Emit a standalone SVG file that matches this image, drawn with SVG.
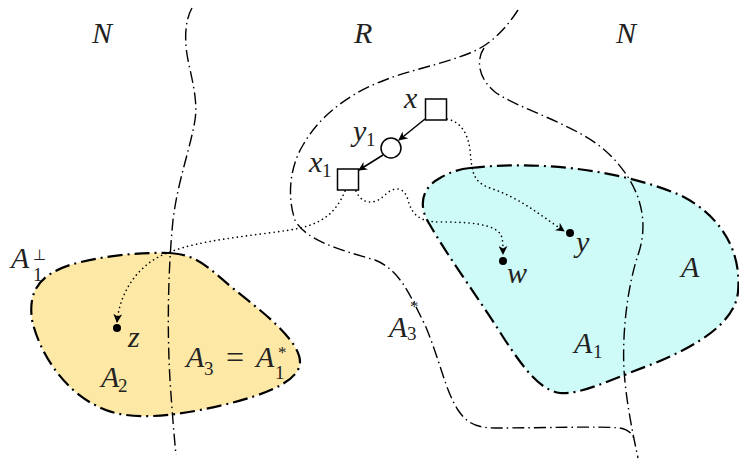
<svg xmlns="http://www.w3.org/2000/svg" width="739" height="460" viewBox="0 0 739 460">
<style>
text{font-family:"Liberation Serif",serif;font-style:italic;font-size:30px;fill:#222}
.s{font-style:normal;font-size:19px}
.b{fill:none;stroke:#000;stroke-width:1.4;stroke-dasharray:12 4 1.5 4}
.reg{stroke:#000;stroke-width:2.2;stroke-dasharray:15 5 2 5}
.dot{fill:none;stroke:#000;stroke-width:1.6;stroke-dasharray:0.1 4.5;stroke-linecap:round}
.n{fill:#fff;stroke:#000;stroke-width:1.5}
</style>
<defs>
<marker id="ar" viewBox="0 0 10 10" refX="9" refY="5" markerWidth="9" markerHeight="9" markerUnits="userSpaceOnUse" orient="auto">
<path d="M0,0 L10,5 L0,10 L3,5 Z" fill="#000"/>
</marker>
</defs>
<g id="regionA2">
<path class="reg" fill="#fde8a6" d="M170,253 C200,255 210,270 235,290 C260,310 300,340 300,362 C300,385 250,400 200,410 C160,418 120,420 95,405 C65,390 40,355 32,320 C28,290 40,275 70,265 C100,256 140,252 170,253 Z"/>
</g>
<g id="regionA">
<path class="reg" fill="#cefaf7" d="M470,168 C540,160 620,170 680,195 C720,215 742,250 738,292 C735,322 700,345 650,365 C610,380 580,395 560,393 C540,390 525,370 505,340 C480,300 450,260 430,225 C420,210 418,190 440,178 C450,172 460,169 470,168 Z"/>
</g>
<g id="boundaries">
<path class="b" d="M192,8 C185,20 184,40 188,60 C192,80 198,100 195,120 C190,150 178,180 173,220 C168,270 167,330 170,380 C172,410 174,435 176,455"/>
<path class="b" d="M484,48 C476,60 478,78 495,92 C520,110 580,125 610,155 C640,185 650,220 638,255 C628,285 622,330 624,370 C626,400 632,430 638,458"/>
<path class="b" d="M518,10 C505,30 490,45 470,53 C440,65 410,70 385,80 C350,93 320,115 303,145 C288,170 288,200 295,220 C305,240 340,250 375,260 C400,270 410,295 425,325 C440,360 445,390 458,410 C466,422 475,428 495,428 C540,428 600,426 620,428 C630,430 634,436 634,440"/>
</g>
<g id="connectors">
<path class="dot" marker-end="url(#ar)" d="M447,119 C462,122 468,135 470,150 C472,170 472,182 490,188 C520,198 540,215 564,231"/>
<path class="dot" marker-end="url(#ar)" d="M356,191 C362,205 375,205 385,195 C395,185 405,188 408,200 C412,215 420,222 440,222 C470,222 495,224 501,235 C503,240 503,245 503,254"/>
<path class="dot" marker-end="url(#ar)" d="M345,191 C335,215 320,225 290,230 C250,236 200,240 170,252 C140,262 120,290 117,322"/>
<line x1="425" y1="119" x2="399" y2="140" stroke="#000" stroke-width="1.5" marker-end="url(#ar)"/>
<line x1="383" y1="155" x2="359" y2="170" stroke="#000" stroke-width="1.5" marker-end="url(#ar)"/>
</g>
<g id="node-x"><rect class="n" x="425.5" y="99" width="21" height="21"/></g>
<g id="node-y1"><circle class="n" cx="391" cy="148" r="10"/></g>
<g id="node-x1"><rect class="n" x="337.5" y="169" width="21" height="21"/></g>
<g id="points">
<circle cx="117" cy="328" r="4"/>
<circle cx="503" cy="261" r="4"/>
<circle cx="570" cy="233" r="4"/>
</g>
<g id="labels">
<text x="92" y="43">N</text>
<text x="354" y="43">R</text>
<text x="616" y="43">N</text>
<text x="404" y="108">x</text>
<text x="353" y="141">y</text><text class="s" x="366" y="146">1</text>
<text x="309" y="172">x</text><text class="s" x="322" y="177">1</text>
<text x="11" y="268">A</text>
<text class="s" x="33" y="260" style="font-size:15px">⊥</text>
<text class="s" x="33" y="281">1</text>
<text x="128" y="347">z</text>
<text x="101" y="387">A</text><text class="s" x="118" y="392">2</text>
<text x="186" y="367">A</text>
<text class="s" x="204" y="375">3</text>
<text class="s" x="226" y="368" style="font-size:32px">=</text>
<text x="256" y="367">A</text>
<text class="s" x="278" y="358" style="font-size:17px">*</text>
<text class="s" x="275" y="379">1</text>
<text x="389" y="337">A</text>
<text class="s" x="410" y="312" style="font-size:17px">*</text>
<text class="s" x="407" y="340">3</text>
<text x="507" y="283">w</text>
<text x="576" y="252">y</text>
<text x="681" y="277">A</text>
<text x="574" y="353">A</text><text class="s" x="593" y="358">1</text>
</g>
</svg>
